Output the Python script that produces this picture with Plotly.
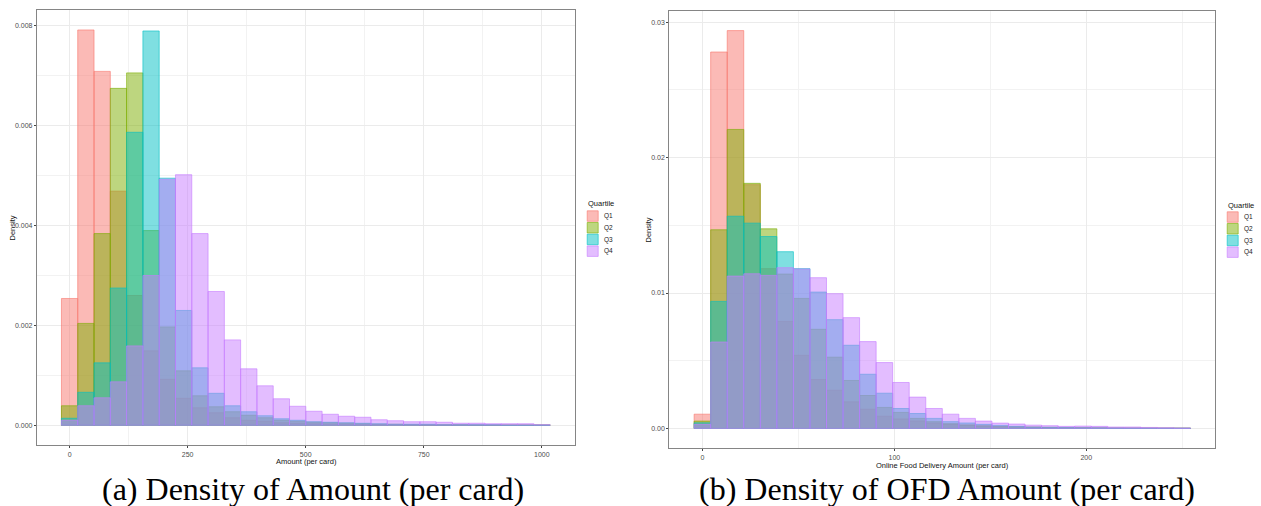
import plotly.graph_objects as go

# ---------------- data ----------------
quartiles = ["Q1", "Q2", "Q3", "Q4"]

# (a) Amount (per card): 30 bins, bin width 34.5
amt_binwidth = 34.5
amt_bin_centers = [0, 34.5, 69, 103.5, 138, 172.5, 207, 241.5, 276, 310.5,
                   345, 379.5, 414, 448.5, 483, 517.5, 552, 586.5, 621, 655.5,
                   690, 724.5, 759, 793.5, 828, 862.5, 897, 931.5, 966, 1000.5]
amt_q1 = [0.00254, 0.00792, 0.00709, 0.00469, 0.00260, 0.00149, 0.00092, 0.00054, 0.00035, 0.00025,
          0.00015, 0.00010, 0.00008, 0.00005, 0.00004, 0.00003, 0.00002, 0.00002, 0.00001, 0.00001,
          0.00001, 0.00001, 0.0, 0.0, 0.0, 0.0, 0.0, 0.0, 0.0, 0.0]
amt_q2 = [0.00039, 0.00204, 0.00384, 0.00675, 0.00706, 0.00390, 0.00197, 0.00109, 0.00059, 0.00037,
          0.00027, 0.00020, 0.00015, 0.00010, 0.00008, 0.00006, 0.00005, 0.00004, 0.00003, 0.00002,
          0.00002, 0.00001, 0.00001, 0.00001, 0.00001, 0.0, 0.0, 0.0, 0.0, 0.0]
amt_q3 = [0.00014, 0.00066, 0.00125, 0.00275, 0.00587, 0.00790, 0.00495, 0.00230, 0.00115, 0.00064,
          0.00039, 0.00027, 0.00019, 0.00013, 0.00010, 0.00007, 0.00006, 0.00005, 0.00004, 0.00003,
          0.00002, 0.00002, 0.00002, 0.00001, 0.00001, 0.00001, 0.00001, 0.0, 0.0, 0.0]
amt_q4 = [0.00010, 0.00039, 0.00055, 0.00087, 0.00159, 0.00300, 0.00493, 0.00502, 0.00384, 0.00268,
          0.00171, 0.00113, 0.00079, 0.00053, 0.00038, 0.00028, 0.00022, 0.00018, 0.00016, 0.00011,
          0.00009, 0.00007, 0.00007, 0.00006, 0.00004, 0.00004, 0.00003, 0.00003, 0.00003, 0.00001]

# (b) Online Food Delivery amount (per card): 30 bins, bin width 8.62
ofd_binwidth = 8.62
ofd_bin_centers = [0, 8.62, 17.24, 25.86, 34.48, 43.1, 51.72, 60.34, 68.96, 77.58,
                   86.2, 94.82, 103.44, 112.06, 120.68, 129.3, 137.92, 146.54, 155.16, 163.78,
                   172.4, 181.02, 189.64, 198.26, 206.88, 215.5, 224.12, 232.74, 241.36, 249.98]
ofd_q1 = [0.00105, 0.02780, 0.02938, 0.01800, 0.01180, 0.00790, 0.00540, 0.00361, 0.00282, 0.00196,
          0.00142, 0.00090, 0.00070, 0.00055, 0.00040, 0.00030, 0.00025, 0.00020, 0.00015, 0.00012,
          0.00010, 0.00008, 0.00006, 0.00005, 0.00004, 0.00003, 0.00002, 0.00002, 0.00001, 0.00001]
ofd_q2 = [0.00054, 0.01467, 0.02208, 0.01810, 0.01474, 0.01140, 0.00960, 0.00732, 0.00526, 0.00354,
          0.00243, 0.00155, 0.00118, 0.00074, 0.00050, 0.00035, 0.00025, 0.00018, 0.00013, 0.00010,
          0.00008, 0.00006, 0.00005, 0.00004, 0.00003, 0.00002, 0.00002, 0.00001, 0.00001, 0.00001]
ofd_q3 = [0.00041, 0.00938, 0.01567, 0.01516, 0.01417, 0.01305, 0.01180, 0.01007, 0.00803, 0.00614,
          0.00400, 0.00260, 0.00147, 0.00110, 0.00074, 0.00050, 0.00040, 0.00030, 0.00022, 0.00015,
          0.00010, 0.00008, 0.00006, 0.00005, 0.00004, 0.00003, 0.00002, 0.00002, 0.00001, 0.00001]
ofd_q4 = [0.00030, 0.00638, 0.01125, 0.01142, 0.01130, 0.01187, 0.01178, 0.01113, 0.00995, 0.00818,
          0.00641, 0.00486, 0.00339, 0.00231, 0.00147, 0.00105, 0.00074, 0.00054, 0.00039, 0.00032,
          0.00024, 0.00020, 0.00015, 0.00017, 0.00015, 0.00010, 0.00010, 0.00007, 0.00005, 0.00003]

amt_tickvals = [0, 250, 500, 750, 1000]
ofd_tickvals = [0, 100, 200]

captions = ["(a) Density of Amount (per card)", "(b) Density of OFD Amount (per card)"]
x_titles = ["Amount (per card)", "Online Food Delivery Amount (per card)"]

# ---------------- style ----------------
W, H = 1261, 506
colors = ["#F8766D", "#7CAE00", "#00BFC4", "#C77CFF"]
FILL_A, LINE_A = 0.5, 0.6


def rgba(h, a):
    h = h.lstrip("#")
    return "rgba(%d,%d,%d,%.3f)" % (int(h[0:2], 16), int(h[2:4], 16), int(h[4:6], 16), a)


def px(x):
    return x / W


def py(y):
    return 1 - y / H


fig = go.Figure()

for series, centers, bw, xa, ya in [
    ([amt_q1, amt_q2, amt_q3, amt_q4], amt_bin_centers, amt_binwidth, "x", "y"),
    ([ofd_q1, ofd_q2, ofd_q3, ofd_q4], ofd_bin_centers, ofd_binwidth, "x2", "y2"),
]:
    for name, vals, c in zip(quartiles, series, colors):
        fig.add_trace(go.Bar(
            x=centers, y=vals, width=bw, name=name,
            marker=dict(color=rgba(c, FILL_A), line=dict(color=rgba(c, LINE_A), width=1)),
            xaxis=xa, yaxis=ya, showlegend=False,
        ))

tickfont = dict(family="Liberation Sans, Arial", size=7, color="#4D4D4D")
common = dict(
    showline=True, linecolor="#858585", linewidth=1.2, mirror=True,
    ticks="outside", ticklen=2, tickwidth=1, tickcolor="#444444",
    showgrid=True, gridcolor="#EBEBEB", gridwidth=1, zeroline=False,
    tickfont=tickfont, fixedrange=True,
)

fig.update_layout(
    width=W, height=H,
    margin=dict(l=0, r=0, t=0, b=0),
    paper_bgcolor="white", plot_bgcolor="white",
    barmode="overlay",
    xaxis=dict(domain=[px(37), px(575)], range=[-69, 1070.3], anchor="y",
               tickmode="array", tickvals=amt_tickvals,
               minor=dict(dtick=125, tick0=0, showgrid=True, gridcolor="#F2F2F2", ticks=""),
               **common),
    yaxis=dict(domain=[py(445), py(10)], range=[-0.000396, 0.00832], anchor="x",
               tickmode="linear", tick0=0, dtick=0.002, tickformat=".3f",
               minor=dict(dtick=0.001, tick0=0, showgrid=True, gridcolor="#F2F2F2", ticks=""),
               **common),
    xaxis2=dict(domain=[px(669.3), px(1215.3)], range=[-17.24, 267.2], anchor="y2",
                tickmode="array", tickvals=ofd_tickvals,
                minor=dict(dtick=50, tick0=0, showgrid=True, gridcolor="#F2F2F2", ticks=""),
                **common),
    yaxis2=dict(domain=[py(448.3), py(10.7)], range=[-0.00147, 0.03085], anchor="x2",
                tickmode="linear", tick0=0, dtick=0.01, tickformat=".2f",
                minor=dict(dtick=0.005, tick0=0, showgrid=True, gridcolor="#F2F2F2", ticks=""),
                **common),
)

annotations = []
shapes = []
title_font = dict(family="Liberation Sans, Arial", size=7.5, color="#111111")

# axis titles
annotations.append(dict(text=x_titles[0], x=px(306), y=py(461.5), xref="paper", yref="paper",
                        showarrow=False, xanchor="center", yanchor="middle", font=title_font))
annotations.append(dict(text=x_titles[1], x=px(942.3), y=py(465.3), xref="paper", yref="paper",
                        showarrow=False, xanchor="center", yanchor="middle", font=title_font))
annotations.append(dict(text="Density", x=px(12), y=py(227.5), xref="paper", yref="paper", textangle=-90,
                        showarrow=False, xanchor="center", yanchor="middle", font=title_font))
annotations.append(dict(text="Density", x=px(648), y=py(229.5), xref="paper", yref="paper", textangle=-90,
                        showarrow=False, xanchor="center", yanchor="middle", font=title_font))

# legends (ggplot-style compact key)
for lx, ty, sy in [(586.7, 203.3, 210.3), (1226.7, 205.0, 211.3)]:
    annotations.append(dict(text="Quartile", x=px(lx - 0.5), y=py(ty), xref="paper", yref="paper",
                            showarrow=False, xanchor="left", yanchor="middle", font=title_font))
    for i, (name, c) in enumerate(zip(quartiles, colors)):
        y0 = sy + i * 11.7
        shapes.append(dict(type="rect", xref="paper", yref="paper",
                           x0=px(lx + 0.5), x1=px(lx + 11.5), y0=py(y0 + 11.0), y1=py(y0 + 0.5),
                           fillcolor=rgba(c, FILL_A), line=dict(color=rgba(c, LINE_A), width=1)))
        annotations.append(dict(text=name, x=px(lx + 15.5), y=py(y0 + 6), xref="paper", yref="paper",
                                showarrow=False, xanchor="left", yanchor="middle",
                                font=dict(family="Liberation Sans, Arial", size=6.5, color="#222222")))

# captions
cap_font = dict(family="Liberation Serif, Times New Roman, serif", size=32, color="black")
annotations.append(dict(text=captions[0], x=px(313), y=py(489), xref="paper", yref="paper",
                        showarrow=False, xanchor="center", yanchor="middle", font=cap_font))
annotations.append(dict(text=captions[1], x=px(947), y=py(489), xref="paper", yref="paper",
                        showarrow=False, xanchor="center", yanchor="middle", font=cap_font))

fig.update_layout(annotations=annotations, shapes=shapes)

fig.write_html("out.html")
